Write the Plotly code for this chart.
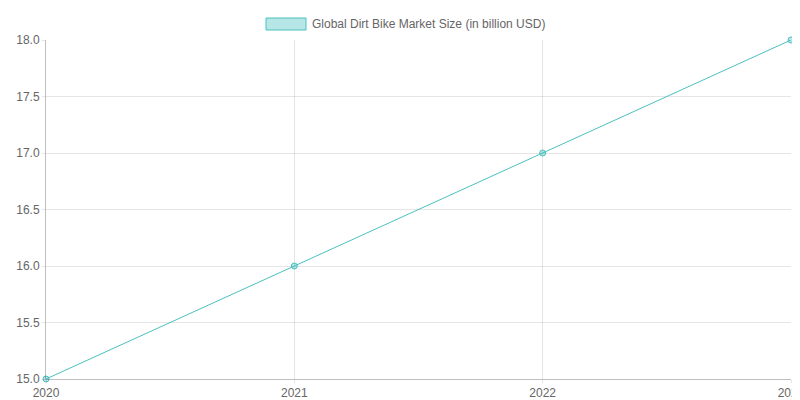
import plotly.graph_objects as go

years = [2020, 2021, 2022, 2023]
market_size = [15.0, 16.0, 17.0, 18.0]
series_name = "Global Dirt Bike Market Size (in billion USD)"

teal = "rgb(75,192,192)"
teal_fill = "rgba(75,192,192,0.4)"
grid = "rgba(0,0,0,0.1)"

fig = go.Figure()
fig.add_trace(go.Scatter(
    x=years, y=market_size, mode="lines+markers", name=series_name,
    line=dict(color=teal, width=1),
    marker=dict(size=6, color=teal_fill, line=dict(color=teal, width=1)),
    cliponaxis=False, showlegend=False,
))

# chart.js style legend box
fig.add_shape(type="rect", xref="paper", yref="paper",
              x0=(258 - 38) / 745, x1=(298 - 38) / 745,
              y0=1 + (32 - 22) / 339, y1=1 + (32 - 10) / 339,
              fillcolor=teal_fill, line=dict(color=teal, width=1))
fig.add_annotation(text=series_name, xref="paper", yref="paper",
                   x=(302 - 38) / 745, y=1 + (32 - 16) / 339,
                   xanchor="left", yanchor="middle", showarrow=False,
                   font=dict(size=12, color="#666"))

fig.update_layout(
    width=800, height=400,
    margin=dict(l=38, r=17, t=32, b=29),
    plot_bgcolor="white", paper_bgcolor="white",
    font=dict(family="Liberation Sans, Arial, sans-serif", size=12, color="#666"),
)
fig.update_xaxes(range=[2020, 2023], tickvals=years, ticktext=[str(y) for y in years],
                 showgrid=True, gridcolor=grid, zeroline=False, automargin=False,
                 showline=True, linecolor="rgba(0,0,0,0.25)", linewidth=1,
                 ticks="outside", ticklen=3, tickcolor=grid)
fig.update_yaxes(range=[15, 18], dtick=0.5, tickformat=".1f",
                 showgrid=True, gridcolor=grid, zeroline=False, automargin=False,
                 showline=True, linecolor="rgba(0,0,0,0.25)", linewidth=1,
                 ticks="outside", ticklen=3, tickcolor=grid)

fig.write_html("out.html")
